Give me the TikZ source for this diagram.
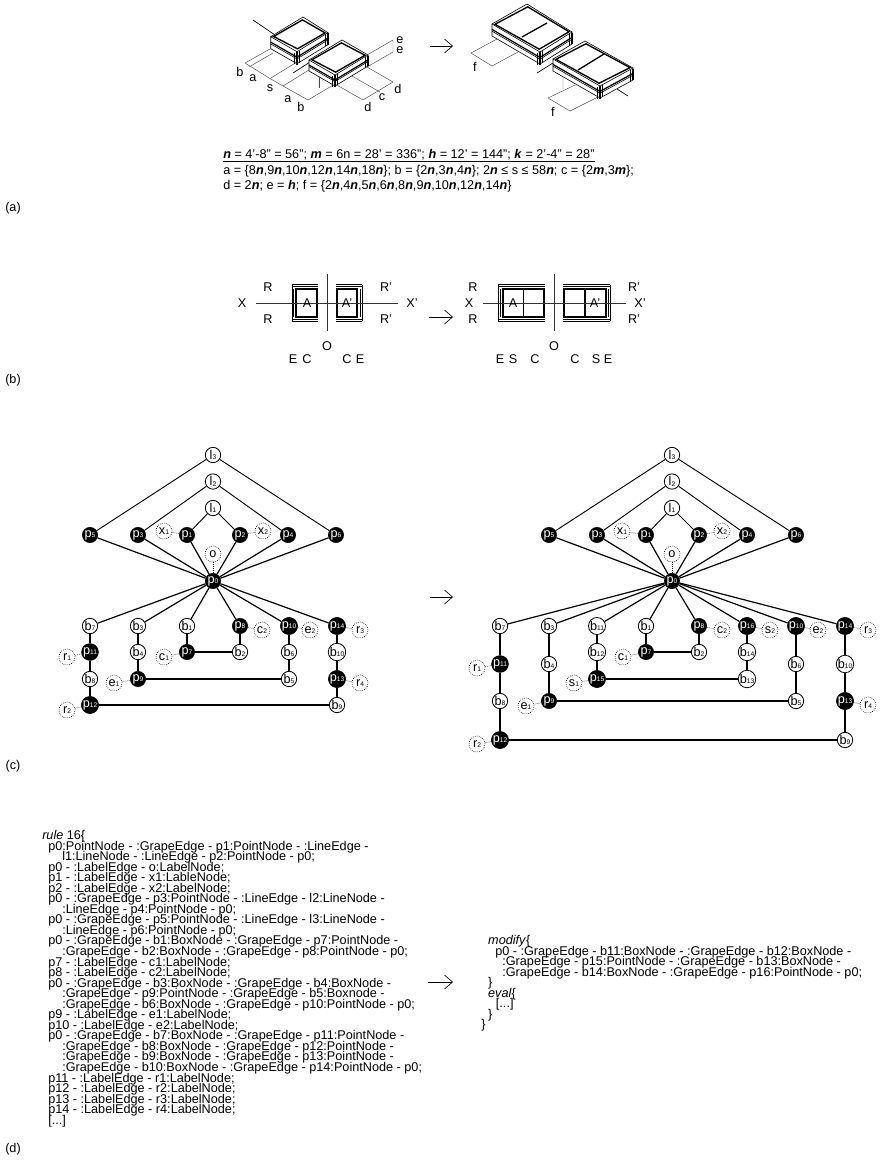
\documentclass[tikz,border=0pt]{standalone}
\usepackage{fontspec}
\setmainfont{Liberation Sans}
\usetikzlibrary{arrows.meta,calc}
\setlength{\normallineskiplimit}{-20pt}
\setlength{\normallineskip}{0pt}
\setlength{\lineskiplimit}{-20pt}
\setlength{\lineskip}{0pt}
\newcommand{\bn}[1]{\textbf{\textit{#1}}}
\newcommand{\lb}[2]{#1\raisebox{-0.4pt}{\fontsize{5}{5}\selectfont #2}}
\newcommand{\isobox}[5]{%
  \coordinate (BL) at (#1); \coordinate (BT) at (#2); \coordinate (BR) at (#3); \coordinate (BF) at (#4);
  \fill[white] (BL)--(BT)--(BR)--($(BR)+(0,#5)$)--($(BF)+(0,#5)$)--($(BL)+(0,#5)$)--cycle;
  \draw[line width=.45pt] (BL)--(BT)--(BR)--(BF)--cycle;
  \draw[line width=1pt] ($(BL)!2.2pt!(BR)$)--($(BT)!2.2pt!(BF)$)--($(BR)!2.2pt!(BL)$)--($(BF)!2.2pt!(BT)$)--cycle;
  \draw[line width=.45pt] (BL)--($(BL)+(0,#5)$)--($(BF)+(0,#5)$)--($(BR)+(0,#5)$)--(BR);
  \draw[line width=.9pt] ($(BL)+(0,#5*.45)$)--($(BF)+(0,#5*.45)$)--($(BR)+(0,#5*.45)$);
  \draw[line width=.45pt] ($(BL)+(0,#5*.6)$)--($(BF)+(0,#5*.6)$)--($(BR)+(0,#5*.6)$);
  \draw[line width=1.1pt] (BF)--($(BF)+(0,#5+1)$);
  \draw[line width=.45pt] ($(BF)+(-2.4,1)$)--($(BF)+(-2.4,#5+.5)$) ($(BF)+(2.4,-1)$)--($(BF)+(2.4,#5-1)$);
  \draw[line width=.45pt] ($(BR)+(-2.4,1.5)$)--($(BR)+(-2.4,#5+1.5)$);
  \draw[line width=.9pt] ($(BR)+(0,.5)$)--($(BR)+(0,#5)$);
}
\tikzset{
  txt/.style={inner sep=0pt,font=\fontsize{9.5}{11}\selectfont},
  dim/.style={line width=.35pt,black!70},
  bigarrow/.style={line width=.5pt,-{Straight Barb[length=6pt,width=10.5pt,line width=.5pt]}},
  ptn/.style={circle,fill=black,draw=black,text=white,minimum size=11.5pt,inner sep=0pt,line width=.4pt,font=\fontsize{9.5}{10}\selectfont},
  bxn/.style={circle,fill=white,draw=black,minimum size=11.5pt,inner sep=0pt,line width=.6pt,font=\fontsize{9.5}{10}\selectfont},
  lbn/.style={circle,fill=white,draw=black,densely dotted,minimum size=12pt,inner sep=0pt,line width=.5pt,font=\fontsize{9.5}{10}\selectfont},
  gr/.style={line width=.9pt},
  ln/.style={line width=.7pt},
  lab/.style={line width=.5pt,densely dotted},
  wall/.style={line width=.6pt,black!80},
  thn/.style={line width=.4pt},
  codeb/.style={inner sep=0pt,anchor=north west,align=left,font=\fontsize{9.5}{7.91}\selectfont}
}
\begin{document}
\begin{tikzpicture}[x=.75pt,y=-.75pt]
\useasboundingbox (0,0) rectangle (880,1165);
% ---- (a) left
\coordinate (d1) at (245,63); \coordinate (d2) at (270,78.5); \coordinate (d3) at (283,86); \coordinate (d4) at (308,100);
\coordinate (d5) at (335,84); \coordinate (d6) at (363,100); \coordinate (d7) at (393,82); \coordinate (d8) at (367,67);
\coordinate (d9) at (380,92); \coordinate (d10) at (350,75);
\draw[dim] (d1)--(d2)--(d3)--(d4)--(d5)--(d6)--(d7)--(d8);
\draw[dim] (d1)--(270,49) (249,67)--(273,53) (d2)--(297,62) (d3)--(330,57);
\draw[dim] (d9)--(d10) (d8)--(393,52) (367,55)--(393,40) (393,40)--(393,52);
\draw[dim] (319,88)--(319,67) (320,36)--(320,45) (297,51)--(320,36);
\draw[line width=.5pt] (253,20)--(275,35) (293,73)--(310,62);
\isobox{270.7,36.7}{303,17}{328,32.7}{297,51.7}{12}
\isobox{309,60}{342,40}{368,55}{335,75}{11}
\draw[dim] (319,88)--(319,77);
\foreach \n/\t/\x/\y in {ta1/b/240/72,ta2/a/253/78,ta3/s/270/88,ta4/a/288/99,ta5/b/301/107,ta6/d/368/107,ta7/c/382/97,ta8/d/398/89,ta9/e/400/40,ta10/e/400/50}
  \node[txt] (\n) at (\x,\y) {\t};
% arrow (a)
\coordinate (aa) at (430,46); \coordinate (ab) at (453,46);
\draw[bigarrow] (aa)--(ab);
% ---- (a) right
\draw[dim] (497,39)--(471,53)--(492,66)--(518,52);
\draw[dim] (575,85)--(548,98)--(570,111)--(598,97);
\draw[dim] (572,43)--(545,60) (563,35)--(563,90);
\draw[line width=.5pt] (537,73)--(553,63) (617,89)--(628,96);
\isobox{492,24}{527,4}{572,32}{540,52}{12}
\draw[line width=1pt] (522,37)--(547,23);
\isobox{553,59}{585,41}{633,68}{600,86}{12}
\draw[line width=1pt] (578,70)--(604,54);
\node[txt] (f1) at (475,67) {f};
\node[txt] (f2) at (553,112) {f};
% text (a)
\node[txt,anchor=base west] (la1) at (223,158) {\underline{\bn{n} = 4'-8'' = 56''; \bn{m} = 6n = 28' = 336''; \bn{h} = 12' = 144''; \bn{k} = 2'-4'' = 28''}};
\node[txt,anchor=base west] (la2) at (223,174) {a = \{8\bn{n},9\bn{n},10\bn{n},12\bn{n},14\bn{n},18\bn{n}\}; b = \{2\bn{n},3\bn{n},4\bn{n}\}; 2\bn{n} ≤ s ≤ 58\bn{n}; c = \{2\bn{m},3\bn{m}\};};
\node[txt,anchor=base west] (la3) at (223,189) {d = 2\bn{n}; e = \bn{h}; f = \{2\bn{n},4\bn{n},5\bn{n},6\bn{n},8\bn{n},9\bn{n},10\bn{n},12\bn{n},14\bn{n}\}};
\node[txt] (capa) at (13,208) {(a)};
% ---- (b) left
\draw[thn] (292,284.5)--(318,284.5) (292,286.5)--(318,286.5) (292,319)--(318,319) (292,321)--(318,321);
\draw[thn] (292,285)--(292,321);
\draw[line width=.8pt] (296,289)--(317,289)--(317,317)--(296,317)--cycle;
\draw[thn] (293.5,289)--(293.5,317);
\draw[thn] (336,284.5)--(362,284.5) (336,286.5)--(362,286.5) (336,319)--(362,319) (336,321)--(362,321);
\draw[thn] (362,285)--(362,321);
\draw[line width=.8pt] (337,289)--(357,289)--(357,317)--(337,317)--cycle;
\draw[thn] (360,289)--(360,317);
\coordinate (bx1) at (256,303); \coordinate (bx2) at (398,303);
\draw[wall] (bx1)--(bx2);
\coordinate (bv1) at (327,274); \coordinate (bv2) at (327,331);
\draw[wall] (bv1)--(bv2);
\foreach \n/\t/\x/\y in {tb1/X/242/303,tb2/R/268/287,tb3/R/268/319,tb4/R'/386/287,tb5/R'/386/319,tb6/X'/412/303,tb7/A/307/303,tb8/A'/347/303,tb9/O/327/346,tb10/E/293/359,tb11/C/307/359,tb12/C/347/359,tb13/E/360/359}
  \node[txt] (\n) at (\x,\y) {\t};
\coordinate (ba) at (429,317); \coordinate (bb) at (453,317);
\draw[bigarrow] (ba)--(bb);
% ---- (b) right
\draw[thn] (498,284.5)--(545,284.5) (498,286.5)--(545,286.5) (498,319)--(545,319) (498,321)--(545,321);
\draw[thn] (498,285)--(498,321);
\draw[line width=.8pt] (503,289)--(544,289)--(544,317)--(503,317)--cycle (523.3,289)--(523.3,317);
\draw[thn] (500,289)--(500,317);
\draw[thn] (563,284.5)--(610,284.5) (563,286.5)--(610,286.5) (563,319)--(610,319) (563,321)--(610,321);
\draw[thn] (610,285)--(610,321);
\draw[line width=.8pt] (564,289)--(606,289)--(606,317)--(564,317)--cycle (585,289)--(585,317);
\draw[thn] (608,289)--(608,317);
\coordinate (cx1) at (483,303); \coordinate (cx2) at (626,303);
\draw[wall] (cx1)--(cx2);
\coordinate (cv1) at (554,274); \coordinate (cv2) at (554,331);
\draw[wall] (cv1)--(cv2);
\foreach \n/\t/\x/\y in {tc1/R/473/287,tc2/X/469/303,tc3/R/473/319,tc4/R'/634/287,tc5/X'/640/303,tc6/R'/634/319,tc7/A/513/303,tc8/A'/595/303,tc9/O/554/346,tc10/E/500/359,tc11/S/513/359,tc12/C/535/359,tc13/C/575/359,tc14/S/596/359,tc15/E/608/359}
  \node[txt] (\n) at (\x,\y) {\t};
\node[txt] (capb) at (13,380) {(b)};
% ---- (c) left graph
\begin{scope}[name prefix=L-]
\foreach \n/\s/\x/\y in {l3/3/213/455,l2/2/213/481.5,l1/1/213/508}
  \node[bxn] (\n) at (\x,\y) {\lb{l}{\s}};
\foreach \n/\s/\x/\y in {p5/5/90/535,p3/3/138/535,p1/1/187/535,p2/2/240/535,p4/4/288/535,p6/6/336/535,p0/0/213/581,p8/8/240/626,p10/10/289/626,p14/14/337/626,p11/11/90/652,p7/7/187/652,p9/9/138/679,p13/13/337/679,p12/12/90/705}
  \node[ptn] (\n) at (\x,\y) {\lb{p}{\s}};
\foreach \n/\s/\x/\y in {b7/7/90/626,b3/3/138/626,b1/1/187/626,b4/4/138/652,b2/2/240/652,b6/6/289/652,b10/10/337/652,b8/8/90/679,b5/5/289/679,b9/9/337/705}
  \node[bxn] (\n) at (\x,\y) {\lb{b}{\s}};
\foreach \n/\t/\s/\x/\y in {x1/x/1/164/531,x2/x/2/263/531,o/o//213/554,c2/c/2/262/630,e2/e/2/310/630,r3/r/3/360/630,r1/r/1/67/657,c1/c/1/164/657,e1/e/1/114/683,r4/r/4/360/683,r2/r/2/67/710}
  \node[lbn] (\n) at (\x,\y) {\lb{\t}{\s}};
\draw[ln] (p5)--(l3) (l3)--(p6) (p3)--(l2) (l2)--(p4) (p1)--(l1) (l1)--(p2);
\foreach \a in {p5,p3,p1,p2,p4,p6,b7,b3,b1,p8,p10,p14}
  \draw[gr] (p0)--(\a);
\draw[gr] (b7)--(p11) (p11)--(b8) (b8)--(p12) (p12)--(b9) (b9)--(p13) (p13)--(b10) (b10)--(p14);
\draw[gr] (b3)--(b4) (b4)--(p9) (p9)--(b5) (b5)--(b6) (b6)--(p10);
\draw[gr] (b1)--(p7) (p7)--(b2) (b2)--(p8);
\foreach \a/\b in {p1/x1,p2/x2,p0/o,p8/c2,p10/e2,p14/r3,p11/r1,p7/c1,p9/e1,p13/r4,p12/r2}
  \draw[lab] (\a)--(\b);
\end{scope}
\coordinate (ca) at (430,597); \coordinate (cb) at (453,597);
\draw[bigarrow] (ca)--(cb);
% ---- (c) right graph
\begin{scope}[name prefix=M-]
\foreach \n/\s/\x/\y in {l3/3/672/455,l2/2/672/481.5,l1/1/672/508}
  \node[bxn] (\n) at (\x,\y) {\lb{l}{\s}};
\foreach \n/\s/\x/\y in {p5/5/549/535,p3/3/597/535,p1/1/646/535,p2/2/699/535,p4/4/747/535,p6/6/796/535,p0/0/672/581,p8/8/699/626,p16/16/747/626,p10/10/796/626,p14/14/845/626,p7/7/646/652,p11/11/500/664,p15/15/597/679,p9/9/549/701,p13/13/845/701,p12/12/500/740}
  \node[ptn] (\n) at (\x,\y) {\lb{p}{\s}};
\foreach \n/\s/\x/\y in {b7/7/500/626,b3/3/549/626,b11/11/597/626,b1/1/646/626,b12/12/597/652,b2/2/699/652,b14/14/747/652,b4/4/549/664,b6/6/796/664,b10/10/845/664,b13/13/747/679,b8/8/500/701,b5/5/796/701,b9/9/845/740}
  \node[bxn] (\n) at (\x,\y) {\lb{b}{\s}};
\foreach \n/\t/\s/\x/\y in {x1/x/1/622/531,x2/x/2/722/531,o/o//672/554,c2/c/2/722/630,s2/s/2/770/630,e2/e/2/818/630,r3/r/3/868/630,r1/r/1/477/668,c1/c/1/623/657,s1/s/1/574/683,e1/e/1/526/706,r4/r/4/868/705,r2/r/2/477/744}
  \node[lbn] (\n) at (\x,\y) {\lb{\t}{\s}};
\draw[ln] (p5)--(l3) (l3)--(p6) (p3)--(l2) (l2)--(p4) (p1)--(l1) (l1)--(p2);
\foreach \a in {p5,p3,p1,p2,p4,p6,b7,b3,b11,b1,p8,p16,p10,p14}
  \draw[gr] (p0)--(\a);
\draw[gr] (b7)--(p11) (p11)--(b8) (b8)--(p12) (p12)--(b9) (b9)--(p13) (p13)--(b10) (b10)--(p14);
\draw[gr] (b3)--(b4) (b4)--(p9) (p9)--(b5) (b5)--(b6) (b6)--(p10);
\draw[gr] (b1)--(p7) (p7)--(b2) (b2)--(p8);
\draw[gr] (b11)--(b12) (b12)--(p15) (p15)--(b13) (b13)--(b14) (b14)--(p16);
\foreach \a/\b in {p1/x1,p2/x2,p0/o,p8/c2,p16/s2,p10/e2,p14/r3,p11/r1,p7/c1,p15/s1,p9/e1,p13/r4,p12/r2}
  \draw[lab] (\a)--(\b);
\end{scope}
\node[txt] (capc) at (13,766) {(c)};
% ---- (d)
\node[codeb] (code1) at (42,830) {%
\textit{rule} 16\{\\
\hspace*{4.5pt}p0:PointNode - :GrapeEdge - p1:PointNode - :LineEdge -\\
\hspace*{15pt}l1:LineNode - :LineEdge - p2:PointNode - p0;\\
\hspace*{4.5pt}p0 - :LabelEdge - o:LabelNode;\\
\hspace*{4.5pt}p1 - :LabelEdge - x1:LableNode;\\
\hspace*{4.5pt}p2 - :LabelEdge - x2:LabelNode;\\
\hspace*{4.5pt}p0 - :GrapeEdge - p3:PointNode - :LineEdge - l2:LineNode -\\
\hspace*{15pt}:LineEdge - p4:PointNode - p0;\\
\hspace*{4.5pt}p0 - :GrapeEdge - p5:PointNode - :LineEdge - l3:LineNode -\\
\hspace*{15pt}:LineEdge - p6:PointNode - p0;\\
\hspace*{4.5pt}p0 - :GrapeEdge - b1:BoxNode - :GrapeEdge - p7:PointNode -\\
\hspace*{15pt}:GrapeEdge - b2:BoxNode - :GrapeEdge - p8:PointNode - p0;\\
\hspace*{4.5pt}p7 - :LabelEdge - c1:LabelNode;\\
\hspace*{4.5pt}p8 - :LabelEdge - c2:LabelNode;\\
\hspace*{4.5pt}p0 - :GrapeEdge - b3:BoxNode - :GrapeEdge - b4:BoxNode -\\
\hspace*{15pt}:GrapeEdge - p9:PointNode - :GrapeEdge - b5:Boxnode -\\
\hspace*{15pt}:GrapeEdge - b6:BoxNode - :GrapeEdge - p10:PointNode - p0;\\
\hspace*{4.5pt}p9 - :LabelEdge - e1:LabelNode;\\
\hspace*{4.5pt}p10 - :LabelEdge - e2:LabelNode;\\
\hspace*{4.5pt}p0 - :GrapeEdge - b7:BoxNode - :GrapeEdge - p11:PointNode -\\
\hspace*{15pt}:GrapeEdge - b8:BoxNode - :GrapeEdge - p12:PointNode -\\
\hspace*{15pt}:GrapeEdge - b9:BoxNode - :GrapeEdge - p13:PointNode -\\
\hspace*{15pt}:GrapeEdge - b10:BoxNode - :GrapeEdge - p14:PointNode - p0;\\
\hspace*{4.5pt}p11 - :LabelEdge - r1:LabelNode;\\
\hspace*{4.5pt}p12 - :LabelEdge - r2:LabelNode;\\
\hspace*{4.5pt}p13 - :LabelEdge - r3:LabelNode;\\
\hspace*{4.5pt}p14 - :LabelEdge - r4:LabelNode;\\
\hspace*{4.5pt}[...]};
\coordinate (da) at (428,982); \coordinate (db) at (453,982);
\draw[bigarrow] (da)--(db);
\node[codeb] (code2) at (481,935) {%
\hspace*{5.2pt}\textit{modify}\{\\
\hspace*{10.5pt}p0 - :GrapeEdge - b11:BoxNode - :GrapeEdge - b12:BoxNode -\\
\hspace*{15.8pt}:GrapeEdge - p15:PointNode - :GrapeEdge - b13:BoxNode -\\
\hspace*{15.8pt}:GrapeEdge - b14:BoxNode - :GrapeEdge - p16:PointNode - p0;\\
\hspace*{5.2pt}\}\\
\hspace*{5.2pt}\textit{eval}\{\\
\hspace*{11pt}[...]\\
\hspace*{5.2pt}\}\\
\}};
\node[txt] (capd) at (13,1149) {(d)};
\end{tikzpicture}
\end{document}
